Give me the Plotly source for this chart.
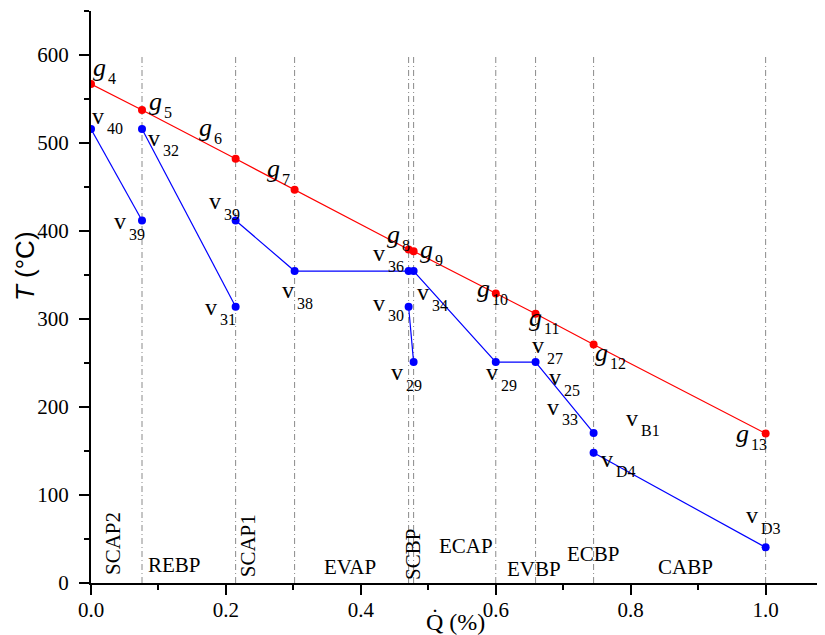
import plotly.graph_objects as go

# ---- data ----
g_subs = ["4", "5", "6", "7", "8", "9", "10", "11", "12", "13"]
g_Q = [0.0, 0.0756, 0.2144, 0.3018, 0.4708, 0.4782, 0.600, 0.659, 0.745, 1.0]
g_T = [567, 537.5, 482, 447, 379, 377, 329, 306, 271, 170]

# blue (v) segments
v_seg_Q = [
    [0.0, 0.0756],
    [0.0756, 0.2144],
    [0.2144, 0.3018, 0.4708, 0.4782, 0.600, 0.659, 0.745],
    [0.4708, 0.4782],
    [0.745, 1.0],
]
v_seg_T = [
    [516, 412],
    [516, 314],
    [412, 354.5, 354.5, 354.5, 251, 251, 170.5],
    [314, 251],
    [148, 40.5],
]

# labels for v points: (subscript, segment, point index)
v_labels = [
    ("40", 0, 0), ("32", 1, 0), ("39", 0, 1), ("39", 2, 0), ("31", 1, 1),
    ("38", 2, 1), ("36", 2, 2), ("30", 3, 0), ("34", 2, 3), ("29", 3, 1),
    ("29", 2, 4), ("27", 2, 5), ("25", 2, 5), ("33", 2, 6), ("B1", 2, 6),
    ("D4", 4, 0), ("D3", 4, 1),
]

region_names = ["SCAP2", "REBP", "SCAP1", "EVAP", "SCBP", "ECAP", "EVBP", "ECBP", "CABP"]

x_ticks = [0.0, 0.2, 0.4, 0.6, 0.8, 1.0]
y_ticks = [0, 100, 200, 300, 400, 500, 600]

# ---- placement / style (pixel offsets of the main letter, relative to its point) ----
g_shift = [(8, 17), (13, 9), (-30, 31), (-21, 21), (-15, 15), (13, 2),
           (-12, 5), (0, -4), (8, -8), (-23, 0)]
v_shift = [(7, 13), (12, -9), (-22, -1), (-21, 19), (-25, 0),
           (-7, -19), (-30, 18), (-30, 4), (9, -21), (-17, -10),
           (-4, -10), (2, 17), (19, -15), (-41, 26), (38, 15),
           (13, -6), (-14, 32)]
region_pos = [(0.0335, 45, -90), (0.124, 20, 0), (0.233, 42, -90), (0.384, 18, 0),
              (0.4775, 32, -90), (0.556, 42, 0), (0.657, 16, 0), (0.745, 33, 0),
              (0.881, 18, 0)]
G_SUB = (6.5, -11)   # subscript left-edge / centre offset from the g centre
V_SUB = (7.0, -13)   # same for v

SERIF = "Liberation Serif"
fig = go.Figure()

shapes = []
for q in g_Q[1:]:
    shapes.append(dict(type="line", xref="x", yref="y", x0=q, x1=q, y0=0, y1=600,
                       line=dict(color="#8a8a8a", width=1, dash="6px,3px,1px,3px"),
                       layer="below"))

fig.add_trace(go.Scatter(x=g_Q, y=g_T, mode="lines+markers",
                         line=dict(color="#ff0000", width=1.2),
                         marker=dict(color="#ff0000", size=8),
                         showlegend=False, hoverinfo="skip"))
for qs, ts in zip(v_seg_Q, v_seg_T):
    fig.add_trace(go.Scatter(x=qs, y=ts, mode="lines+markers",
                             line=dict(color="#0000ff", width=1.2),
                             marker=dict(color="#0000ff", size=8),
                             showlegend=False, hoverinfo="skip"))

ann = []


def add_label(q, t, letter, sub, dx, dy, size, suboff):
    ann.append(dict(x=q, y=t, xref="x", yref="y", showarrow=False, text=letter,
                    xanchor="center", yanchor="middle", xshift=dx, yshift=dy,
                    font=dict(family=SERIF, size=size, color="black")))
    ann.append(dict(x=q, y=t, xref="x", yref="y", showarrow=False, text=sub,
                    xanchor="left", yanchor="middle",
                    xshift=dx + suboff[0], yshift=dy + suboff[1],
                    font=dict(family=SERIF, size=16, color="black")))


for s, q, t, (dx, dy) in zip(g_subs, g_Q, g_T, g_shift):
    add_label(q, t, "<i>g</i>", s, dx, dy, 26, G_SUB)
for (s, si, pi), (dx, dy) in zip(v_labels, v_shift):
    add_label(v_seg_Q[si][pi], v_seg_T[si][pi], "v", s, dx, dy, 24, V_SUB)

for name, (q, t, ang) in zip(region_names, region_pos):
    ann.append(dict(x=q, y=t, xref="x", yref="y", showarrow=False, text=name,
                    textangle=ang, font=dict(family=SERIF, size=21, color="black")))

# axis titles
ann.append(dict(x=0.496, y=-0.068, xref="paper", yref="paper", showarrow=False,
                text="Q\u0307 (%)", xanchor="center", yanchor="middle",
                font=dict(family=SERIF, size=24, color="black")))
ann.append(dict(x=-0.09, y=0.554, xref="paper", yref="paper", showarrow=False,
                text="<i>T</i> (°C)", textangle=-90, xanchor="center", yanchor="middle",
                font=dict(family="Liberation Sans", size=26, color="black")))

fig.update_layout(
    width=817, height=627,
    margin=dict(l=83, r=0, t=3, b=52),
    paper_bgcolor="white", plot_bgcolor="white",
    shapes=shapes, annotations=ann,
    xaxis=dict(range=[0, 1.088], tickvals=x_ticks,
               ticktext=["%.1f" % v for v in x_ticks],
               showline=True, linecolor="black", linewidth=2,
               ticks="outside", ticklen=10, tickwidth=2, tickcolor="black",
               minor=dict(dtick=0.1, tick0=0, ticks="outside", ticklen=5,
                          tickwidth=2, tickcolor="black"),
               showgrid=False, zeroline=False, ticklabelstandoff=-3,
               tickfont=dict(family=SERIF, size=21, color="black")),
    yaxis=dict(range=[0, 650], tickvals=y_ticks,
               showline=True, linecolor="black", linewidth=2,
               ticks="outside", ticklen=10, tickwidth=2, tickcolor="black",
               minor=dict(dtick=50, tick0=0, ticks="outside", ticklen=5,
                          tickwidth=2, tickcolor="black"),
               showgrid=False, zeroline=False, ticklabelstandoff=6,
               tickfont=dict(family=SERIF, size=21, color="black")),
)

fig.write_html("out.html")
